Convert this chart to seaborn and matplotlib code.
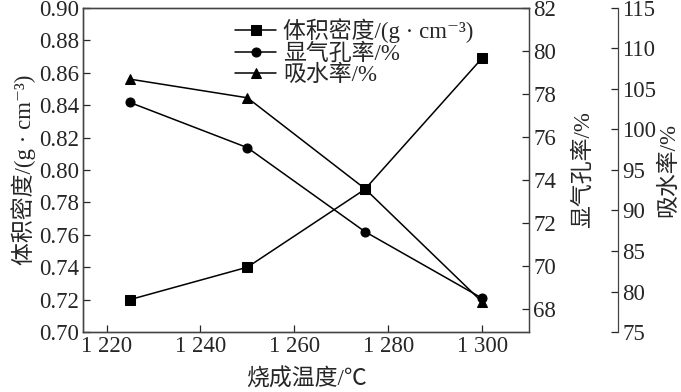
import matplotlib
matplotlib.use("Agg")
import matplotlib.pyplot as plt
import seaborn as sns

# data
temps = [1225, 1250, 1275, 1300]
density = [0.720, 0.740, 0.788, 0.869]
porosity = [77.6, 75.5, 71.6, 68.5]
absorption = [106.2, 103.9, 92.7, 78.7]
x_ticks = [1220, 1240, 1260, 1280, 1300]
x_tick_labels = ["1 220", "1 240", "1 260", "1 280", "1 300"]

sns.set_style("ticks")
plt.rcParams["font.family"] = ["Liberation Serif", "Noto Sans CJK SC", "DejaVu Serif"]
fs = 16.5

fig, ax = plt.subplots(figsize=(6.81, 3.92), dpi=100)
fig.subplots_adjust(left=0.122, right=0.777, top=0.98, bottom=0.153)
ax2 = ax.twinx()
ax3 = ax.twinx()
ax3.spines["right"].set_position(("axes", 1.2))

#density
sns.lineplot(x=temps, y=density, marker="s", markersize=6.5, color="black",
             lw=1.1, ax=ax, legend=False, markeredgecolor="black")
#apparent porosity
sns.lineplot(x=temps, y=porosity, marker="o", markersize=6.5, color="black",
             lw=1.1, ax=ax2, legend=False, markeredgecolor="black")
#water absorption
sns.lineplot(x=temps, y=absorption, marker="^", markersize=6.5, color="black",
             lw=1.1, ax=ax3, legend=False, markeredgecolor="black")

ax.set_xlim(1215, 1310)
ax.set_xticks(x_ticks)
ax.set_xticklabels(x_tick_labels)
ax.set_ylim(0.70, 0.90)
ax.set_yticks([0.70 + 0.02 * i for i in range(11)])
ax.set_yticklabels([f"{0.70 + 0.02 * i:.2f}" for i in range(11)])
ax2.set_ylim(66.93, 82)
ax2.set_yticks(range(68, 83, 2))
ax3.set_ylim(75, 115)
ax3.set_yticks(range(75, 116, 5))

for a in (ax, ax2, ax3):
    a.tick_params(direction="in", labelsize=fs, length=5, width=0.9, pad=3)
    for s in a.spines.values():
        s.set_linewidth(0.9)
        s.set_color("#444444")

ax.set_xlabel("烧成温度/℃", fontsize=fs, labelpad=8)
ax.set_ylabel("体积密度/(g · cm⁻³)", fontsize=fs, labelpad=2)
ax2.set_ylabel("显气孔率/%", fontsize=fs, labelpad=12)
ax3.set_ylabel("吸水率/%", fontsize=fs, labelpad=1)

handles = [a.lines[0] for a in (ax, ax2, ax3)]
labels = ["体积密度/(g · cm⁻³)", "显气孔率/%", "吸水率/%"]
ax3.legend(handles, labels, loc="upper left", bbox_to_anchor=(0.31, 1.01),
           frameon=False, fontsize=fs, handlelength=1.8, handletextpad=0.3,
           labelspacing=0.0, borderaxespad=0.2)

plt.savefig("out.png", dpi=100)
